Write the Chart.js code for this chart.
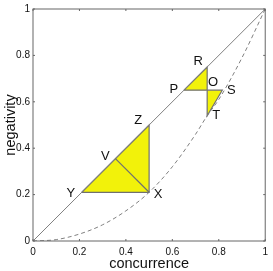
<!DOCTYPE html>
<html>
<head>
<meta charset="utf-8">
<script src="https://cdn.jsdelivr.net/npm/chart.js@4"></script>
<style>
  body { margin: 0; background: #fff; }
  canvas { display: block; }
</style>
</head>
<body>
<canvas id="chart" width="273" height="271"></canvas>
<script>
// diagonal y = x
const diagX = [0, 1];
const diagY = [0, 1];

// dashed curve
const curveX = [0, 0.1, 0.2, 0.3, 0.4, 0.5, 0.6, 0.7, 0.75, 0.8, 0.9, 1];
const curveY = [0, 0.006, 0.03, 0.07, 0.13, 0.21, 0.32, 0.46, 0.54, 0.61, 0.79, 1];

// triangles
const bigTriX = [0.21, 0.5, 0.5, 0.21];
const bigTriY = [0.21, 0.5, 0.21, 0.21];
const vxLineX = [0.355, 0.5];
const vxLineY = [0.355, 0.21];
const upTriX = [0.65, 0.75, 0.75, 0.65];
const upTriY = [0.65, 0.75, 0.65, 0.65];
const lowTriX = [0.75, 0.815, 0.75, 0.75];
const lowTriY = [0.65, 0.65, 0.54, 0.65];

// point labels
const pointNames = ["Y", "Z", "V", "X", "P", "R", "O", "S", "T"];
const pointX = [0.21, 0.5, 0.355, 0.5, 0.65, 0.75, 0.75, 0.815, 0.75];
const pointY = [0.21, 0.5, 0.355, 0.21, 0.65, 0.75, 0.65, 0.65, 0.54];

const tickVals = [0, 0.2, 0.4, 0.6, 0.8, 1];

const pts = (xs, ys) => xs.map((x, i) => ({ x: x, y: ys[i] }));

const YELLOW = "#f2f20a";
const GRAY = "#808080";
const FONT = "'Liberation Sans', Arial, sans-serif";

// triangles go underneath the lines (higher order = drawn first)
function triangle(xs, ys) {
  return {
    data: pts(xs, ys),
    showLine: true,
    borderColor: "#707070",
    borderWidth: 1.2,
    backgroundColor: YELLOW,
    fill: "shape",
    pointRadius: 0,
    tension: 0,
    order: 5
  };
}

// label offsets in pixels (style only)
const labelOffsets = {
  Y: [-11, 1], Z: [-11, -5], V: [-10, -2], X: [9, 2],
  P: [-10, -1], R: [-9, -6], O: [6, -8], S: [9, 0], T: [9, 0]
};

const framePlugin = {
  id: "frame",
  afterDraw(chart) {
    const { ctx, chartArea: a, scales } = chart;
    ctx.save();
    ctx.strokeStyle = "#666";
    ctx.lineWidth = 1;
    ctx.strokeRect(a.left, a.top, a.right - a.left, a.bottom - a.top);
    // inward tick marks
    tickVals.forEach(v => {
      const px = scales.x.getPixelForValue(v);
      const py = scales.y.getPixelForValue(v);
      ctx.beginPath();
      ctx.moveTo(px, a.bottom); ctx.lineTo(px, a.bottom - 2);
      ctx.moveTo(px, a.top); ctx.lineTo(px, a.top + 2);
      ctx.moveTo(a.left, py); ctx.lineTo(a.left + 2, py);
      ctx.moveTo(a.right, py); ctx.lineTo(a.right - 2, py);
      ctx.stroke();
    });
    // point labels
    ctx.fillStyle = "#111";
    ctx.font = "13px " + FONT;
    ctx.textAlign = "center";
    ctx.textBaseline = "middle";
    pointNames.forEach((n, i) => {
      const off = labelOffsets[n];
      ctx.fillText(n, scales.x.getPixelForValue(pointX[i]) + off[0],
                      scales.y.getPixelForValue(pointY[i]) + off[1]);
    });
    ctx.restore();
  }
};

new Chart(document.getElementById("chart"), {
  type: "scatter",
  data: {
    datasets: [
      {
        data: pts(vxLineX, vxLineY),
        showLine: true,
        borderColor: "#707070",
        borderWidth: 1.2,
        pointRadius: 0,
        order: 1
      },
      {
        data: pts(diagX, diagY),
        showLine: true,
        borderColor: GRAY,
        borderWidth: 1,
        pointRadius: 0,
        order: 1
      },
      {
        data: pts(curveX, curveY),
        showLine: true,
        borderColor: GRAY,
        borderWidth: 1,
        borderDash: [4, 3],
        cubicInterpolationMode: "monotone",
        pointRadius: 0,
        order: 1
      },
      triangle(bigTriX, bigTriY),
      triangle(upTriX, upTriY),
      triangle(lowTriX, lowTriY)
    ]
  },
  options: {
    responsive: false,
    animation: false,
    layout: { padding: { top: 9, right: 6, left: 0, bottom: 0 } },
    plugins: { legend: { display: false }, tooltip: { enabled: false } },
    scales: {
      x: {
        type: "linear",
        min: 0, max: 1,
        afterBuildTicks: s => { s.ticks = tickVals.map(v => ({ value: v })); },
        afterFit: s => { s.height = 30; },
        grid: { display: false, drawTicks: false, tickLength: 0 },
        border: { display: false },
        ticks: {
          color: "#111",
          padding: 5,
          maxRotation: 0,
          font: { family: FONT, size: 10 },
          callback: v => String(v)
        },
        title: {
          display: true,
          text: "concurrence",
          color: "#111",
          padding: { top: 0, bottom: -2 },
          font: { family: FONT, size: 14.5 }
        }
      },
      y: {
        type: "linear",
        min: 0, max: 1,
        afterBuildTicks: s => { s.ticks = tickVals.map(v => ({ value: v })); },
        afterFit: s => { s.width = 33; },
        grid: { display: false, drawTicks: false, tickLength: 0 },
        border: { display: false },
        ticks: {
          color: "#111",
          padding: 3,
          font: { family: FONT, size: 10 },
          callback: v => String(v)
        },
        title: {
          display: true,
          text: "negativity",
          color: "#111",
          padding: { top: 2, bottom: 0 },
          font: { family: FONT, size: 14.5 }
        }
      }
    }
  },
  plugins: [framePlugin]
});
</script>
</body>
</html>
